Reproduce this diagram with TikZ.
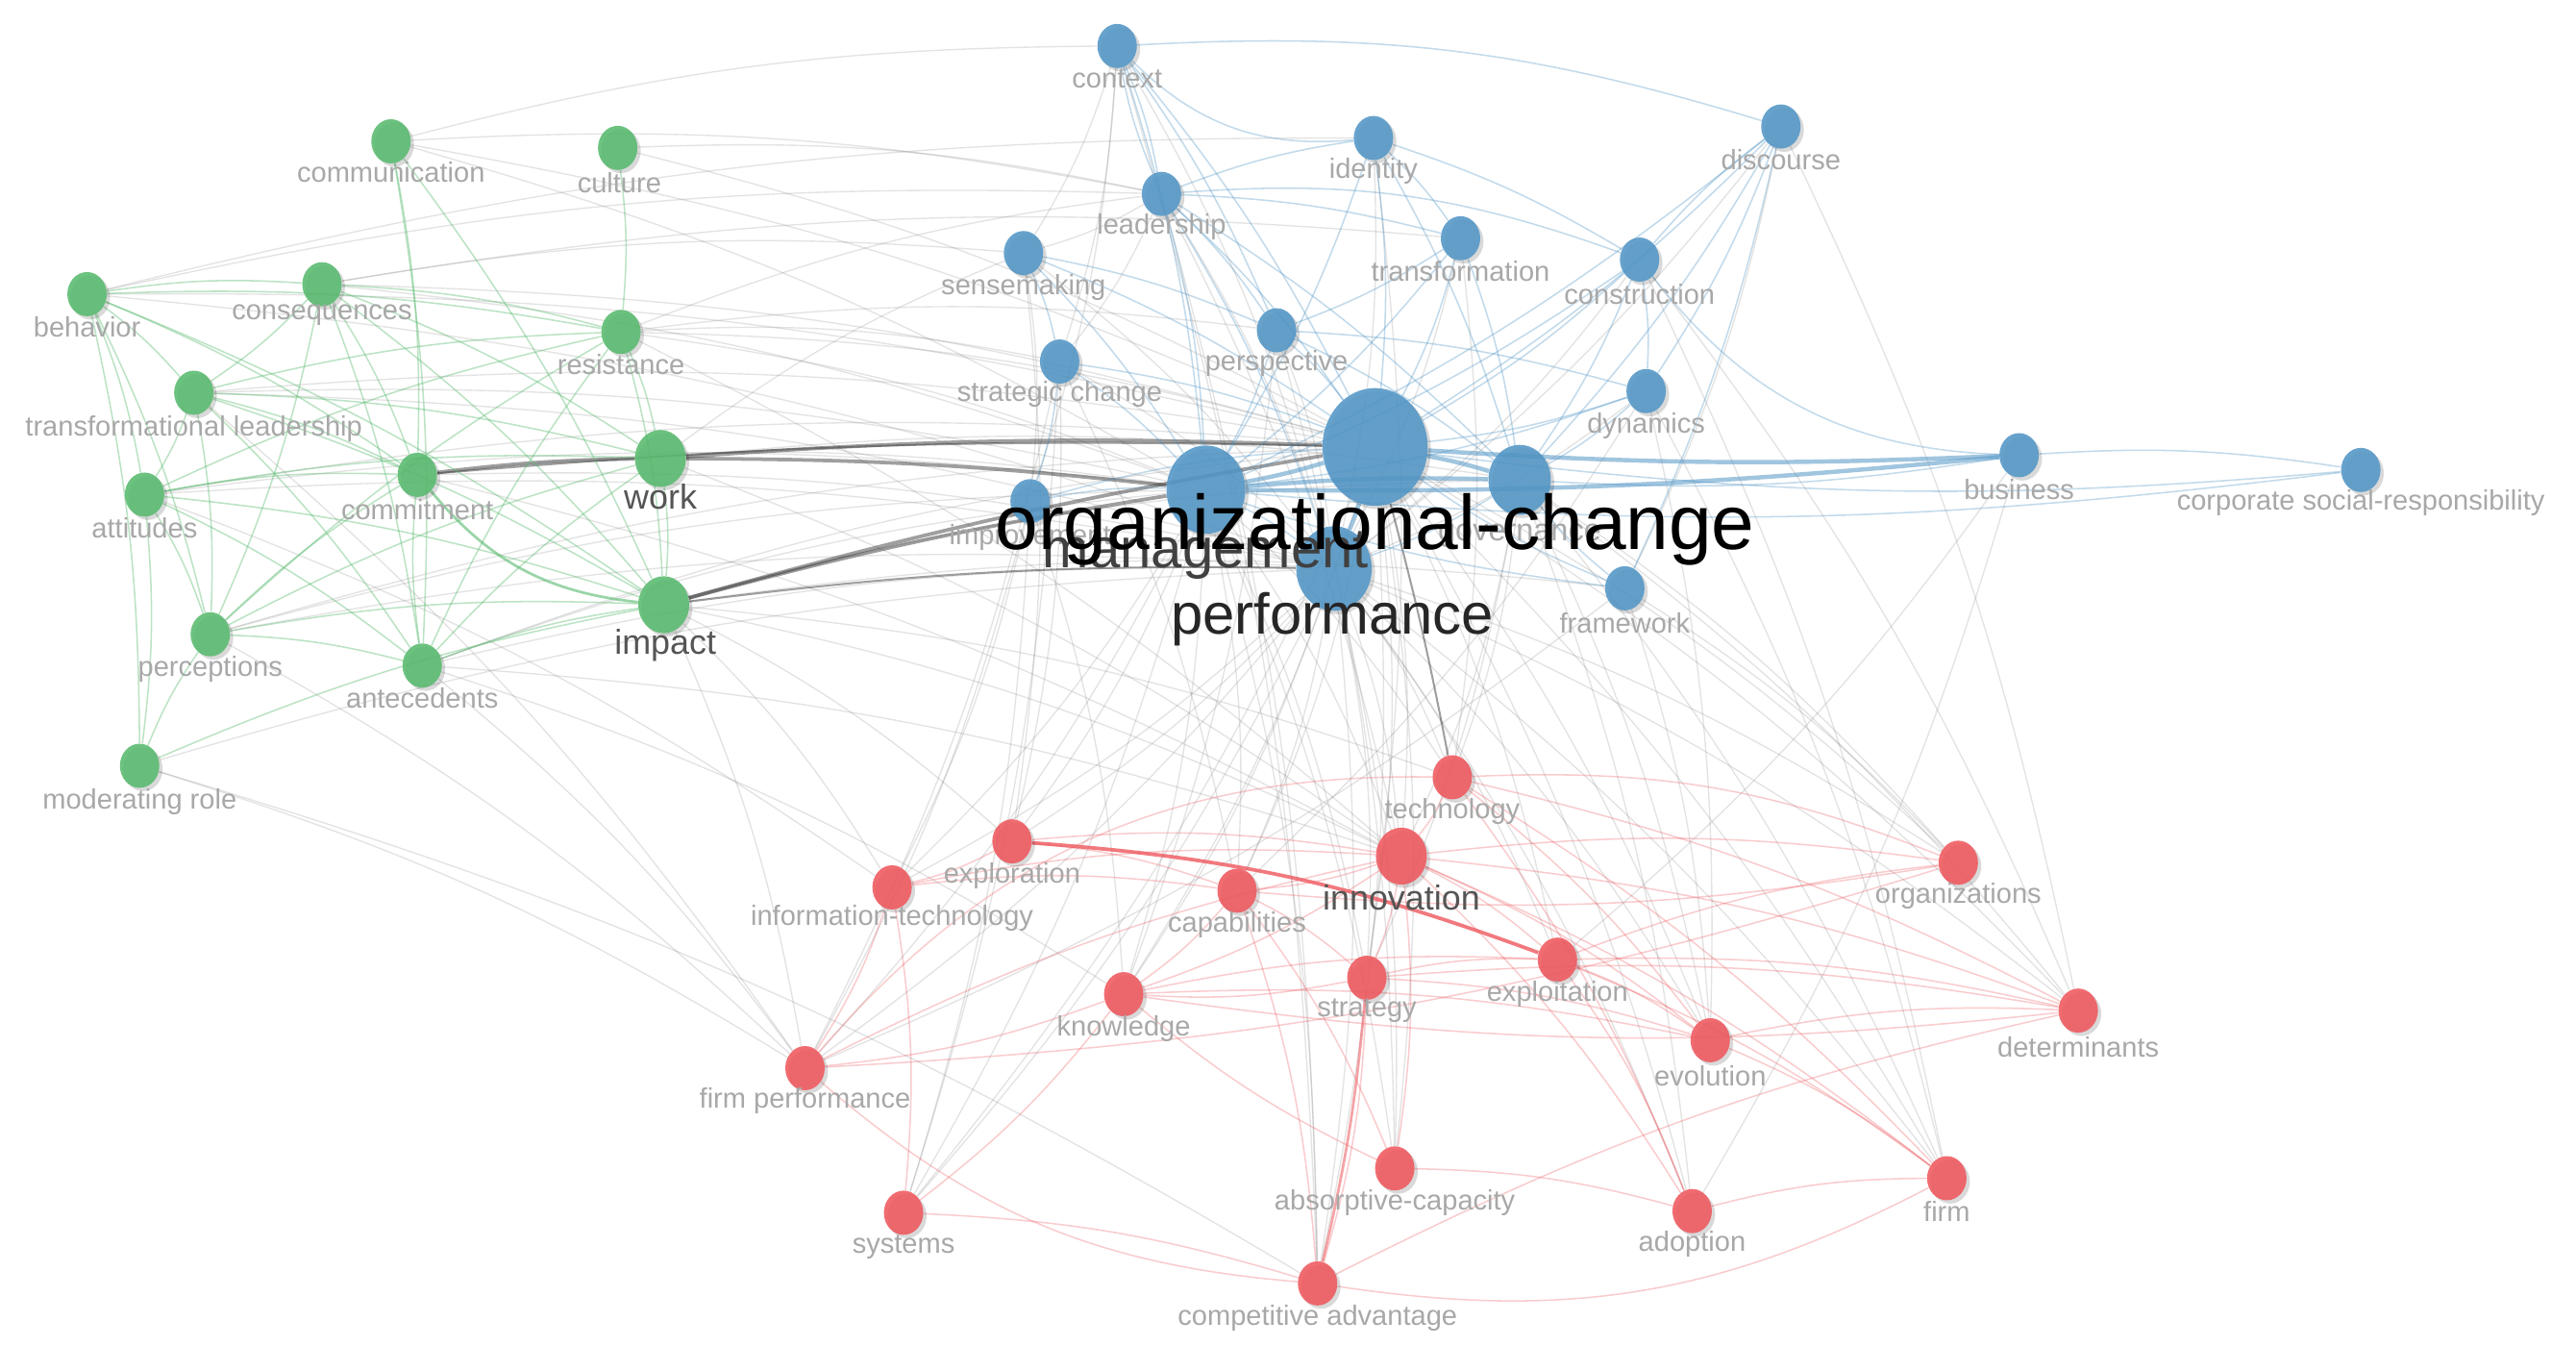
\documentclass[tikz,border=0pt]{standalone}
\usepackage{fontspec}
\setmainfont{Liberation Sans}
\usetikzlibrary{shapes.geometric,shadows}
\definecolor{gcol}{RGB}{88,186,110}
\definecolor{bcol}{RGB}{82,150,198}
\definecolor{rcol}{RGB}{238,88,94}
\definecolor{labgray}{RGB}{168,168,168}
\definecolor{labdark}{RGB}{85,85,85}
\pgfdeclarelayer{bg}
\pgfdeclarelayer{edges}
\pgfsetlayers{bg,edges,main}
\tikzset{
  kw/.style={ellipse, inner sep=0pt, draw=none, fill opacity=0.88,
    drop shadow={shadow xshift=2pt, shadow yshift=-2pt, opacity=0.15, fill=black}},
  gn/.style={kw, fill=gcol, minimum width=#1, minimum height={1.12*#1}}, gn/.default=24,
  bn/.style={kw, fill=bcol, minimum width=#1, minimum height={1.12*#1}}, bn/.default=24,
  rn/.style={kw, fill=rcol, minimum width=#1, minimum height={1.12*#1}}, rn/.default=24,
  lab/.style={text=labgray, font=\fontsize{17}{19}\selectfont, inner sep=0pt},
  labm/.style={text=labdark, font=\fontsize{21}{23}\selectfont, inner sep=0pt},
  xe/.style={draw=black!50, opacity=0.22, line width=0.8pt},
  xd/.style={draw=black!75, opacity=0.5, line width=2.2pt},
  ge/.style={draw=gcol, opacity=0.4, line width=0.9pt},
  be/.style={draw=bcol, opacity=0.35, line width=0.9pt},
  bt/.style={draw=bcol, opacity=0.55, line width=2.6pt},
  re/.style={draw=rcol, opacity=0.3, line width=0.9pt},
  rt/.style={draw=rcol, opacity=0.8, line width=2.2pt}
}
\begin{document}
\begin{tikzpicture}[x=1pt,y=-1pt]
\useasboundingbox (0,0) rectangle (1568,834);
\begin{pgfonlayer}{bg}
\fill[white] (0,0) rectangle (1568,834);
\end{pgfonlayer}

% ---------- green cluster ----------
\node[gn] (com)  at (238,86)  {};
\node[gn] (cul)  at (376,90)  {};
\node[gn] (beh)  at (53,179)  {};
\node[gn] (cons) at (196,173) {};
\node[gn] (res)  at (378,202) {};
\node[gn] (tl)   at (118,239) {};
\node[gn] (att)  at (88,301)  {};
\node[gn] (cmt)  at (254,289) {};
\node[gn=31] (work) at (402,279) {};
\node[gn=31] (imp)  at (404,368) {};
\node[gn] (perc) at (128,386) {};
\node[gn] (ant)  at (257,405) {};
\node[gn] (mod)  at (85,466)  {};

% ---------- blue cluster ----------
\node[bn] (ctx)    at (680,28)   {};
\node[bn] (idt)    at (836,84)   {};
\node[bn] (disc)   at (1084,77)  {};
\node[bn] (lead)   at (707,118)  {};
\node[bn] (trf)    at (889,145)  {};
\node[bn] (constr) at (998,158)  {};
\node[bn] (sens)   at (623,154)  {};
\node[bn] (persp)  at (777,201)  {};
\node[bn] (stc)    at (645,220)  {};
\node[bn] (dyn)    at (1002,238) {};
\node[bn] (bus)    at (1229,277) {};
\node[bn] (csr)    at (1437,286) {};
\node[bn] (frm)    at (989,358)  {};
\node[bn] (impr)   at (627,305)  {};
\node[bn=38] (gov)  at (925,292) {};
\node[bn=48] (mgmt) at (734,298) {};
\node[bn=46] (perf) at (812,346) {};
\node[bn=64] (oc)   at (837,272) {};

% ---------- red cluster ----------
\node[rn] (tech)  at (884,473)  {};
\node[rn] (explr) at (616,512)  {};
\node[rn] (it)    at (543,540)  {};
\node[rn] (cap)   at (753,542)  {};
\node[rn=31] (inn) at (853,521) {};
\node[rn] (orgs)  at (1192,525) {};
\node[rn] (expt)  at (948,584)  {};
\node[rn] (strat) at (832,595)  {};
\node[rn] (know)  at (684,605)  {};
\node[rn] (evo)   at (1041,633) {};
\node[rn] (det)   at (1265,615) {};
\node[rn] (fp)    at (490,650)  {};
\node[rn] (acap)  at (849,711)  {};
\node[rn] (adop)  at (1030,737) {};
\node[rn] (firm)  at (1185,717) {};
\node[rn] (sys)   at (550,738)  {};
\node[rn] (ca)    at (802,781)  {};

% ---------- edges ----------
\begin{pgfonlayer}{edges}
% gray cross-cluster edges
\foreach \a/\b in {cmt/mgmt,res/oc,res/mgmt,res/lead,beh/lead,beh/oc,cons/sens,cons/oc,com/ctx,com/oc,cul/oc,cul/lead,
  tl/oc,tl/mgmt,att/oc,att/mgmt,perc/oc,perc/mgmt,ant/oc,ant/mgmt,ant/perf,mod/perf,mod/fp,imp/gov,work/gov,cmt/perf,
  res/stc,res/persp,work/sens,imp/frm,perc/perf,att/perf,tl/perf,beh/perf,cons/mgmt,com/mgmt,beh/idt,cons/trf,com/lead,
  imp/fp,imp/it,imp/explr,imp/inn,work/inn,ant/know,ant/inn,perc/fp,att/it,cmt/inn,tl/fp,res/inn,imp/tech,mod/ca,ant/fp,
  ctx/sens,ctx/stc,ctx/perf,lead/perf,idt/perf,sens/perf,stc/perf,lead/stc,disc/frm,ctx/impr,lead/sens,persp/perf,
  trf/perf,constr/perf,dyn/perf,disc/perf,sens/impr,
  perf/tech,perf/inn,perf/strat,perf/ca,perf/fp,perf/know,perf/cap,perf/expt,perf/evo,perf/explr,perf/it,perf/acap,
  perf/adop,perf/sys,perf/det,perf/orgs,perf/firm,mgmt/inn,mgmt/know,mgmt/it,mgmt/sys,mgmt/explr,mgmt/cap,mgmt/fp,
  mgmt/tech,mgmt/strat,mgmt/ca,oc/inn,oc/firm,oc/adop,oc/orgs,oc/det,oc/strat,oc/expt,oc/evo,oc/acap,oc/cap,
  gov/orgs,gov/firm,gov/det,gov/tech,gov/evo,gov/adop,gov/inn,frm/evo,frm/orgs,frm/fp,dyn/evo,dyn/cap,bus/adop,bus/expt,
  stc/explr,stc/cap,stc/fp,stc/sys,impr/it,impr/sys,impr/know,impr/fp,sens/explr,lead/inn,lead/ca,persp/acap,persp/know,
  constr/firm,constr/det,disc/det,dyn/firm,trf/tech,ctx/ca,idt/strat,mgmt/acap,oc/ca,oc/know,gov/strat,oc/sys}
  \draw[xe] (\a) to[bend left=7] (\b);
% dark gray strong edges
\foreach \a/\b in {cmt/work,work/oc,work/mgmt,imp/oc,imp/mgmt}
  \draw[xd] (\a) to[bend left=3] (\b);
\draw[xd, line width=1.2pt] (imp) to[bend left=4] (perf);
\draw[xd, line width=1.2pt] (cmt) to[bend left=3] (oc);
\draw[xd, line width=1.2pt] (oc) to[bend left=2] (tech);
% green edges
\foreach \a/\b in {com/cmt,com/ant,com/imp,cul/res,res/work,res/imp,beh/cons,beh/tl,beh/att,beh/perc,beh/cmt,beh/res,
  beh/imp,cons/tl,cons/ant,cons/cmt,cons/perc,cons/res,cons/imp,cons/work,tl/att,tl/cmt,tl/imp,tl/work,tl/perc,tl/ant,
  tl/res,att/mod,att/cmt,att/perc,att/res,att/work,att/ant,perc/ant,perc/res,perc/cmt,perc/work,perc/imp,mod/imp,
  mod/perc,ant/cmt,ant/work,ant/imp,ant/res,work/imp,beh/mod,att/imp}
  \draw[ge] (\a) to[bend left=6] (\b);
\draw[ge, line width=1.6pt, opacity=0.6] (cmt) to[bend right=22] (imp);
% blue edges
\foreach \a/\b in {ctx/lead,ctx/oc,ctx/mgmt,lead/idt,lead/oc,lead/mgmt,lead/gov,lead/perf,idt/oc,idt/constr,idt/mgmt,
  idt/gov,trf/oc,trf/gov,trf/mgmt,constr/oc,constr/disc,constr/gov,constr/mgmt,disc/oc,disc/mgmt,disc/gov,disc/dyn,
  disc/frm,sens/oc,sens/mgmt,sens/persp,sens/stc,stc/oc,stc/mgmt,stc/impr,persp/oc,persp/mgmt,persp/gov,dyn/oc,
  dyn/mgmt,dyn/gov,bus/gov,bus/csr,csr/oc,csr/mgmt,frm/oc,frm/mgmt,frm/gov,mgmt/perf,impr/mgmt,impr/oc,gov/perf,
  idt/trf,lead/trf,persp/dyn,constr/dyn,ctx/persp,lead/persp,trf/persp}
  \draw[be] (\a) to[bend left=6] (\b);
\draw[be] (ctx) to[bend left=10] (disc);
\draw[be] (ctx) to[bend right=25] (idt);
\draw[be] (lead) to[bend left=12] (constr);
\draw[be] (constr) to[bend right=25] (bus);
\draw[be] (ctx) to[bend right=6] (lead);
\foreach \a/\b in {oc/mgmt,oc/gov,oc/perf,bus/oc,bus/mgmt,mgmt/gov}
  \draw[bt] (\a) to[bend left=3] (\b);
% red edges
\foreach \a/\b in {explr/inn,explr/cap,explr/it,it/fp,it/sys,it/cap,it/inn,tech/evo,tech/det,tech/adop,tech/inn,
  tech/firm,inn/cap,inn/expt,inn/orgs,inn/det,inn/firm,inn/strat,inn/know,inn/acap,inn/evo,inn/adop,cap/know,
  cap/strat,cap/acap,cap/ca,strat/expt,strat/know,strat/ca,strat/evo,strat/det,know/fp,know/sys,know/expt,know/evo,
  expt/evo,expt/orgs,expt/det,expt/firm,expt/adop,evo/det,evo/firm,acap/adop,acap/know,sys/ca,fp/inn,det/know,
  orgs/cap,orgs/fp,ca/det,adop/firm}
  \draw[re] (\a) to[bend left=7] (\b);
\draw[re] (tech) to[bend left=12] (orgs);
\draw[re] (fp) to[bend left=25] (tech);
\draw[re] (fp) to[bend right=18] (ca);
\draw[re] (ca) to[bend right=18] (firm);
\draw[rt] (explr) to[bend left=8] (expt);
\draw[re, line width=1.6pt, opacity=0.55] (strat) to[bend left=4] (ca);
\end{pgfonlayer}

% ---------- labels ----------
\node[lab] (l-com)  at (238,105) {communication};
\node[lab] (l-cul)  at (377,111) {culture};
\node[lab] (l-beh)  at (53,199)  {behavior};
\node[lab] (l-cons) at (196,192) {consequences};
\node[lab] (l-res)  at (378,222) {resistance};
\node[lab] (l-tl)   at (118,261) {transformational leadership};
\node[lab] (l-att)  at (88,321)  {attitudes};
\node[lab] (l-cmt)  at (254,310) {commitment};
\node[labm] (l-work) at (402,302) {work};
\node[labm] (l-imp)  at (405,393) {impact};
\node[lab] (l-perc) at (128,407) {perceptions};
\node[lab] (l-ant)  at (257,425) {antecedents};
\node[lab] (l-mod)  at (85,488)  {moderating role};

\node[lab] (l-ctx)    at (680,48)   {context};
\node[lab] (l-idt)    at (836,104)  {identity};
\node[lab] (l-disc)   at (1084,97)  {discourse};
\node[lab] (l-lead)   at (707,138)  {leadership};
\node[lab] (l-trf)    at (889,165)  {transformation};
\node[lab] (l-constr) at (998,179)  {construction};
\node[lab] (l-sens)   at (623,175)  {sensemaking};
\node[lab] (l-persp)  at (777,221)  {perspective};
\node[lab] (l-stc)    at (645,240)  {strategic change};
\node[lab] (l-dyn)    at (1002,259) {dynamics};
\node[lab] (l-bus)    at (1229,298) {business};
\node[lab] (l-csr)    at (1437,306) {corporate social-responsibility};
\node[lab] (l-frm)    at (989,379)  {framework};
\node[lab] (l-impr)   at (627,327)  {improvement};
\node[lab, font=\fontsize{19}{21}\selectfont] (l-gov) at (925,326) {governance};

\node[lab] (l-tech)  at (884,494)  {technology};
\node[lab] (l-explr) at (616,533)  {exploration};
\node[lab] (l-it)    at (543,559)  {information-technology};
\node[lab] (l-cap)   at (753,563)  {capabilities};
\node[labm] (l-inn)  at (853,546)  {innovation};
\node[lab] (l-orgs)  at (1192,545) {organizations};
\node[lab] (l-expt)  at (948,605)  {exploitation};
\node[lab] (l-strat) at (832,615)  {strategy};
\node[lab] (l-know)  at (684,626)  {knowledge};
\node[lab] (l-evo)   at (1041,655) {evolution};
\node[lab] (l-det)   at (1265,637) {determinants};
\node[lab] (l-fp)    at (490,670)  {firm performance};
\node[lab] (l-acap)  at (849,732)  {absorptive-capacity};
\node[lab] (l-adop)  at (1030,757) {adoption};
\node[lab] (l-firm)  at (1185,737) {firm};
\node[lab] (l-sys)   at (550,759)  {systems};
\node[lab] (l-ca)    at (802,802)  {competitive advantage};

\node[inner sep=0pt, text=black!75, font=\fontsize{34}{36}\selectfont] (l-mgmt) at (734,338) {management};
\node[inner sep=0pt, text=black!85, font=\fontsize{35}{37}\selectfont] (l-perf) at (811,377) {performance};
\node[inner sep=0pt, text=black, font=\fontsize{47}{49}\selectfont] (l-oc) at (837,322) {organizational-change};
\end{tikzpicture}
\end{document}
